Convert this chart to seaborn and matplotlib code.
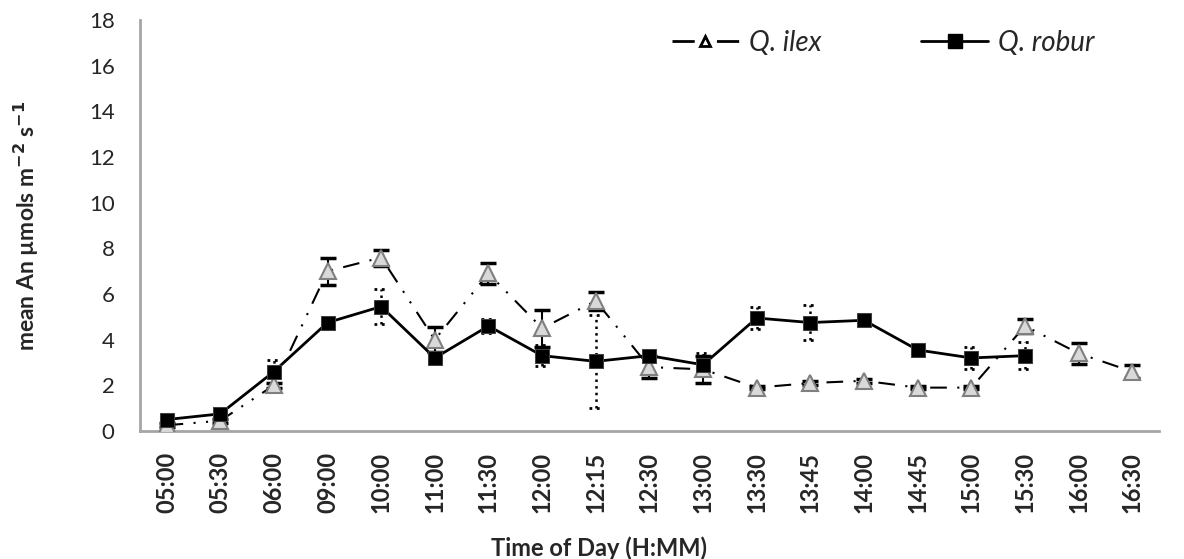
import numpy as np
import pandas as pd
import matplotlib
matplotlib.use("Agg")
import matplotlib.pyplot as plt
from matplotlib.ticker import MultipleLocator, FixedLocator
from matplotlib.lines import Line2D
import seaborn as sns

times = ["05:00", "05:30", "06:00", "09:00", "10:00", "11:00", "11:30", "12:00", "12:15",
         "12:30", "13:00", "13:30", "13:45", "14:00", "14:45", "15:00", "15:30", "16:00", "16:30"]

ilex_mean = [0.25, 0.45, 2.0, 7.0, 7.6, 4.0, 6.9, 4.5, 5.7,
             2.8, 2.7, 1.9, 2.1, 2.2, 1.9, 1.9, 4.6, 3.4, 2.6]
ilex_err = [0.08, 0.08, 0.1, 0.6, 0.35, 0.55, 0.45, 0.8, 0.4,
            0.5, 0.6, 0.08, 0.08, 0.08, 0.08, 0.08, 0.3, 0.45, 0.3]

robur_mean = [0.5, 0.75, 2.6, 4.75, 5.45, 3.2, 4.6, 3.3, 3.05,
              3.3, 2.9, 4.95, 4.75, 4.85, 3.55, 3.2, 3.3, np.nan, np.nan]
robur_err = [0.08, 0.25, 0.5, 0.08, 0.75, 0.2, 0.3, 0.45, 2.05,
             0.08, 0.5, 0.5, 0.75, 0.1, 0.08, 0.5, 0.6, np.nan, np.nan]

df = pd.DataFrame({"pos": np.arange(len(times)), "time": times,
                   "ilex": ilex_mean, "ilex_err": ilex_err,
                   "robur": robur_mean, "robur_err": robur_err})

sns.set_style("white")
plt.rcParams["font.family"] = ["Lato", "DejaVu Sans"]

fig = plt.figure(figsize=(11.84, 5.59), dpi=100)
ax = fig.add_axes([0.118, 0.229, 0.861, 0.735])

x = df["pos"].to_numpy()
ilex_dash = (0, (8, 5, 1, 5, 1, 5))

# Q. ilex error bars: solid with caps
ax.errorbar(x, df["ilex"], yerr=df["ilex_err"], fmt="none", ecolor="black",
            elinewidth=1.5, capsize=5.5, capthick=2.5, zorder=2)
# Q. robur error bars: dotted, dotted caps
rb = df.dropna()
ax.vlines(rb["pos"], rb["robur"] - rb["robur_err"], rb["robur"] + rb["robur_err"],
          colors="black", linestyles=":", linewidth=1.8, zorder=2)
for sign in (-1, 1):
    ax.hlines(rb["robur"] + sign * rb["robur_err"], rb["pos"] - 0.13, rb["pos"] + 0.13,
              colors="black", linestyles=":", linewidth=2, zorder=2)

sns.lineplot(data=df, x="pos", y="ilex", ax=ax, color="black", lw=1.5,
             linestyle=ilex_dash, marker="^", markersize=11,
             markerfacecolor="#d9d9d9", markeredgecolor="#7f7f7f",
             markeredgewidth=1.5, zorder=3)

sns.lineplot(data=df, x="pos", y="robur", ax=ax, color="black", lw=2,
             marker="s", markersize=10, markerfacecolor="black",
             markeredgecolor="#404040", zorder=4)

ax.set_xlim(-0.5, len(times) - 0.5)
ax.set_ylim(0, 18)
ax.yaxis.set_major_locator(MultipleLocator(2))
ax.yaxis.set_minor_locator(MultipleLocator(0.4))
ax.set_xticks(x)
ax.set_xticklabels(times, rotation=90, fontweight="bold", fontsize=17)
ax.xaxis.set_minor_locator(FixedLocator(np.arange(-0.5, len(times), 1)))
ax.tick_params(axis="x", which="major", length=0, pad=15)
ax.tick_params(axis="x", which="minor", length=7, width=2, color="#a6a6a6", direction="out")
ax.tick_params(axis="y", which="major", length=7, width=2, color="#a6a6a6", direction="in",
               labelsize=16, pad=18)
ax.tick_params(axis="y", which="minor", length=4, width=1.5, color="#a6a6a6", direction="in")

for s in ["top", "right"]:
    ax.spines[s].set_visible(False)
for s in ["left", "bottom"]:
    ax.spines[s].set_color("#a6a6a6")
    ax.spines[s].set_linewidth(2)

ax.set_ylabel("mean An \u00b5mols m$^{\\mathbf{-2}}$ s$^{\\mathbf{-1}}$", fontsize=16.5,
              fontweight="bold")
ax.yaxis.set_label_coords(-0.097, 0.5)
ax.set_xlabel("Time of Day (H:MM)", fontsize=17, fontweight="bold", va="center")
ax.xaxis.set_label_coords(0.451, -0.285)

handles = [
    Line2D([], [], color="black", lw=2, linestyle=(0, (8, 8)), marker="^", markersize=7,
           markerfacecolor="white", markeredgecolor="black", markeredgewidth=2),
    Line2D([], [], color="black", lw=2, marker="s", markersize=10, markerfacecolor="black"),
]
ax.legend(handles, ["Q. ilex", "Q. robur"], ncol=2, frameon=False,
          loc="center left", bbox_to_anchor=(0.5676, 0.923), bbox_transform=fig.transFigure,
          borderpad=0, borderaxespad=0, handlelength=2.4, handletextpad=0.36,
          columnspacing=3.6, prop={"style": "italic", "size": 20})

fig.savefig("out.png", dpi=100)
